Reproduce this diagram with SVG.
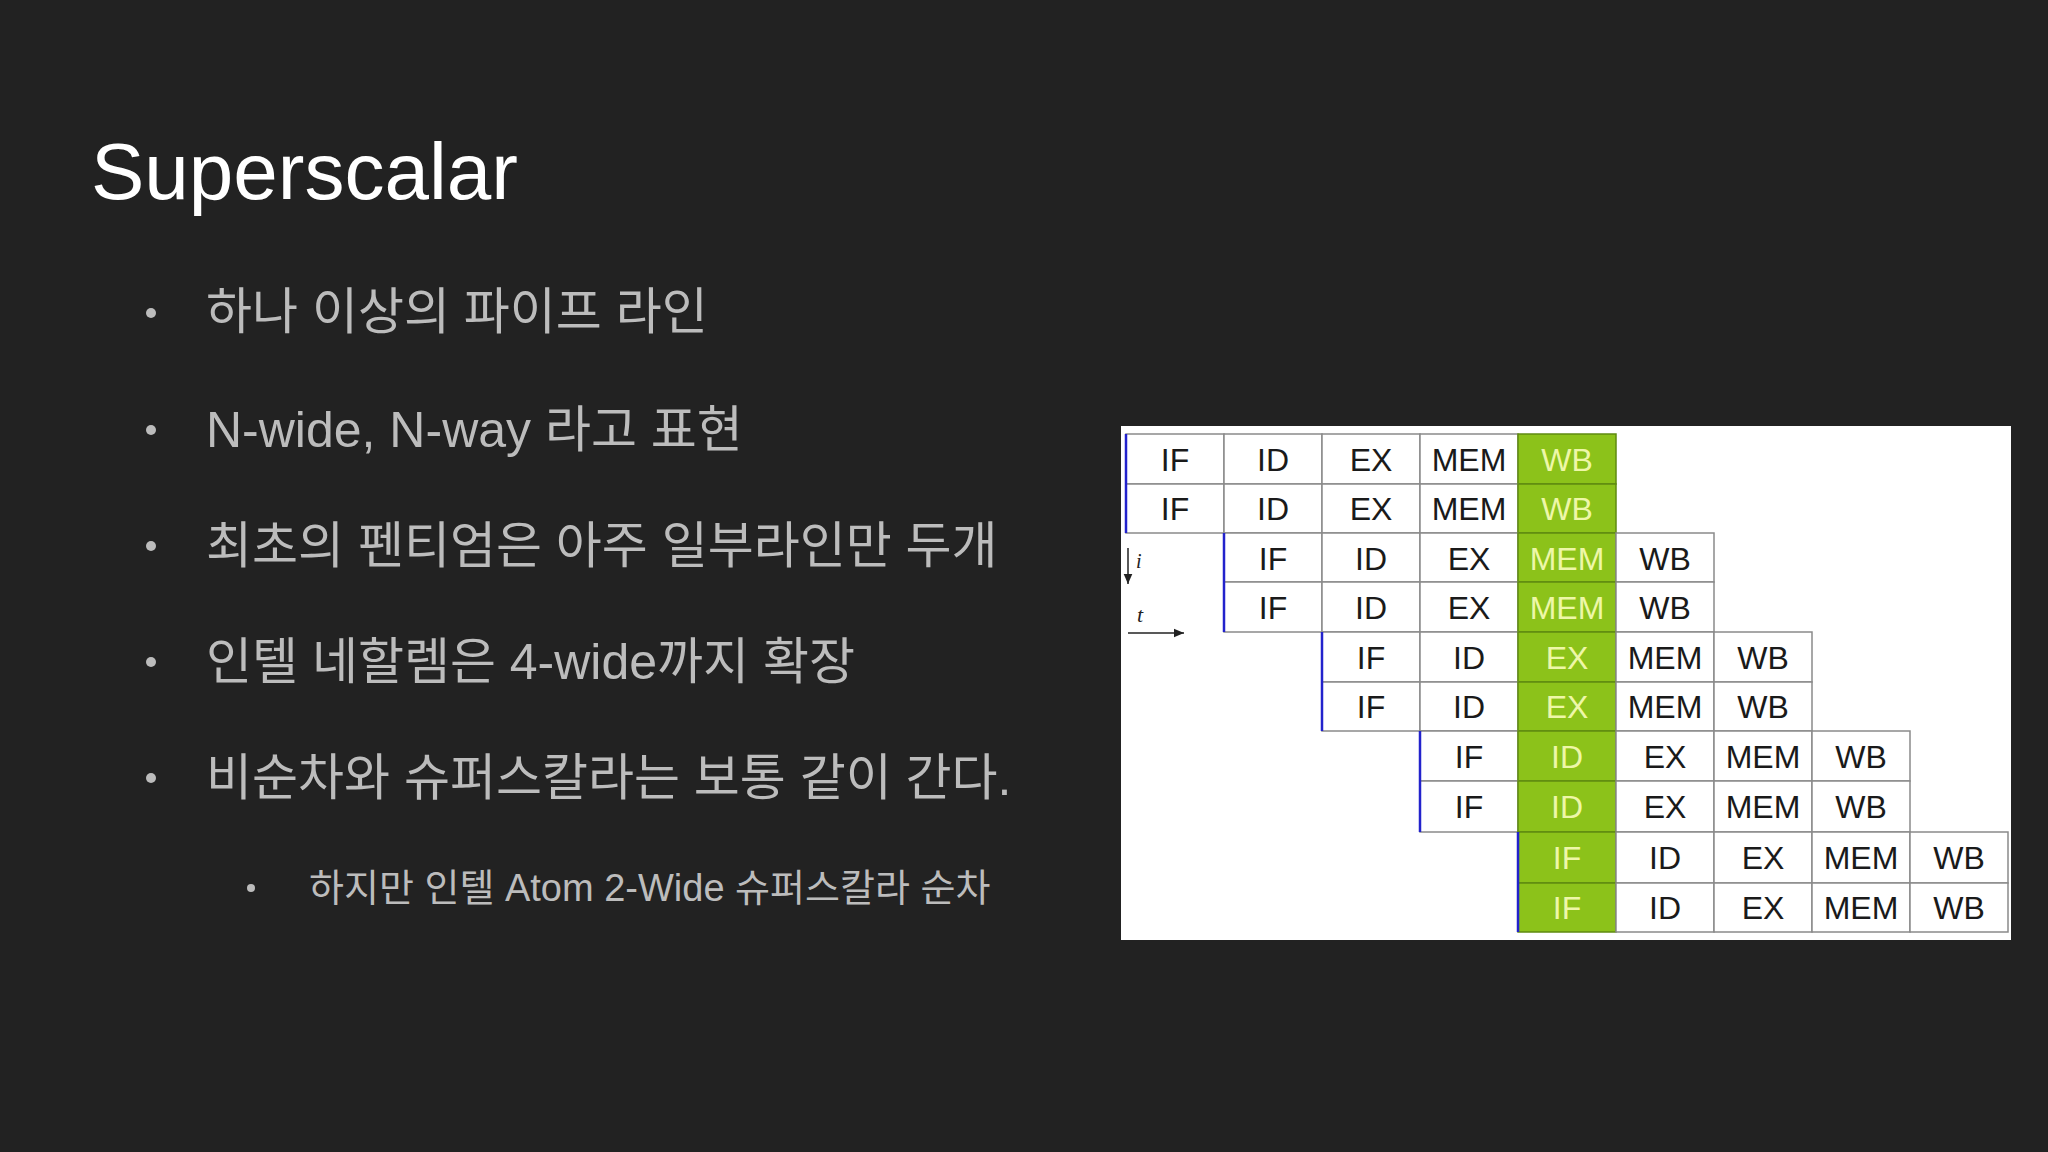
<svg xmlns="http://www.w3.org/2000/svg" width="2048" height="1152" viewBox="0 0 2048 1152">
<style>
.t{font-family:"Liberation Sans","Noto Sans CJK KR",sans-serif;fill:#bcbcbc;font-size:50px}
.s{font-family:"Liberation Sans","Noto Sans CJK KR",sans-serif;fill:#bcbcbc;font-size:38px}
.c{fill:#fff;stroke:#8a8a8a;stroke-width:1.5}
.g{fill:#8cc21a;stroke:#5f8a10;stroke-width:1.5}
.l{font-family:"Liberation Sans",sans-serif;font-size:32px;text-anchor:middle;fill:#1a1a1a}
.lg{font-family:"Liberation Sans",sans-serif;font-size:32px;text-anchor:middle;fill:#eef7a8}
.b{stroke:#2222cc;stroke-width:2.5}
</style>
<defs><marker id="ah" markerWidth="8" markerHeight="8" refX="7" refY="4" orient="auto"><path d="M0,1 L7,4 L0,7 z" fill="#222"/></marker></defs>
<rect width="2048" height="1152" fill="#222"/>
<text x="91" y="199" font-family="Liberation Sans,sans-serif" font-size="80" fill="#fff">Superscalar</text>
<g id="bullets">
<circle cx="151" cy="313" r="5" fill="#bcbcbc"/><text class="t" x="206" y="329">하나 이상의 파이프 라인</text>
<circle cx="151" cy="430" r="5" fill="#bcbcbc"/><text class="t" x="206" y="447">N-wide, N-way 라고 표현</text>
<circle cx="151" cy="546" r="5" fill="#bcbcbc"/><text class="t" x="206" y="563">최초의 펜티엄은 아주 일부라인만 두개</text>
<circle cx="151" cy="662" r="5" fill="#bcbcbc"/><text class="t" x="206" y="679">인텔 네할렘은 4-wide까지 확장</text>
<circle cx="151" cy="778" r="5" fill="#bcbcbc"/><text class="t" x="206" y="795">비순차와 슈퍼스칼라는 보통 같이 간다.</text>
<circle cx="251" cy="888" r="4" fill="#bcbcbc"/><text class="s" x="309" y="901">하지만 인텔 Atom 2-Wide 슈퍼스칼라 순차</text>
</g>
<g id="table">
<rect x="1121" y="426" width="890" height="514" fill="#fff"/>
<g id="cells">
<!-- rows generated manually -->
<g id="r0"><rect class="c" x="1126" y="434" width="98" height="50"/><rect class="c" x="1224" y="434" width="98" height="50"/><rect class="c" x="1322" y="434" width="98" height="50"/><rect class="c" x="1420" y="434" width="98" height="50"/><rect class="g" x="1518" y="434" width="98" height="50"/>
<text class="l" x="1175" y="471">IF</text><text class="l" x="1273" y="471">ID</text><text class="l" x="1371" y="471">EX</text><text class="l" x="1469" y="471">MEM</text><text class="lg" x="1567" y="471">WB</text></g>
<g id="r1"><rect class="c" x="1126" y="484" width="98" height="49"/><rect class="c" x="1224" y="484" width="98" height="49"/><rect class="c" x="1322" y="484" width="98" height="49"/><rect class="c" x="1420" y="484" width="98" height="49"/><rect class="g" x="1518" y="484" width="98" height="49"/>
<text class="l" x="1175" y="520">IF</text><text class="l" x="1273" y="520">ID</text><text class="l" x="1371" y="520">EX</text><text class="l" x="1469" y="520">MEM</text><text class="lg" x="1567" y="520">WB</text></g>
<g id="r2"><rect class="c" x="1224" y="533" width="98" height="49"/><rect class="c" x="1322" y="533" width="98" height="49"/><rect class="c" x="1420" y="533" width="98" height="49"/><rect class="g" x="1518" y="533" width="98" height="49"/><rect class="c" x="1616" y="533" width="98" height="49"/>
<text class="l" x="1273" y="570">IF</text><text class="l" x="1371" y="570">ID</text><text class="l" x="1469" y="570">EX</text><text class="lg" x="1567" y="570">MEM</text><text class="l" x="1665" y="570">WB</text></g>
<g id="r3"><rect class="c" x="1224" y="582" width="98" height="50"/><rect class="c" x="1322" y="582" width="98" height="50"/><rect class="c" x="1420" y="582" width="98" height="50"/><rect class="g" x="1518" y="582" width="98" height="50"/><rect class="c" x="1616" y="582" width="98" height="50"/>
<text class="l" x="1273" y="619">IF</text><text class="l" x="1371" y="619">ID</text><text class="l" x="1469" y="619">EX</text><text class="lg" x="1567" y="619">MEM</text><text class="l" x="1665" y="619">WB</text></g>
<g id="r4"><rect class="c" x="1322" y="632" width="98" height="50"/><rect class="c" x="1420" y="632" width="98" height="50"/><rect class="g" x="1518" y="632" width="98" height="50"/><rect class="c" x="1616" y="632" width="98" height="50"/><rect class="c" x="1714" y="632" width="98" height="50"/>
<text class="l" x="1371" y="669">IF</text><text class="l" x="1469" y="669">ID</text><text class="lg" x="1567" y="669">EX</text><text class="l" x="1665" y="669">MEM</text><text class="l" x="1763" y="669">WB</text></g>
<g id="r5"><rect class="c" x="1322" y="682" width="98" height="49"/><rect class="c" x="1420" y="682" width="98" height="49"/><rect class="g" x="1518" y="682" width="98" height="49"/><rect class="c" x="1616" y="682" width="98" height="49"/><rect class="c" x="1714" y="682" width="98" height="49"/>
<text class="l" x="1371" y="718">IF</text><text class="l" x="1469" y="718">ID</text><text class="lg" x="1567" y="718">EX</text><text class="l" x="1665" y="718">MEM</text><text class="l" x="1763" y="718">WB</text></g>
<g id="r6"><rect class="c" x="1420" y="731" width="98" height="50"/><rect class="g" x="1518" y="731" width="98" height="50"/><rect class="c" x="1616" y="731" width="98" height="50"/><rect class="c" x="1714" y="731" width="98" height="50"/><rect class="c" x="1812" y="731" width="98" height="50"/>
<text class="l" x="1469" y="768">IF</text><text class="lg" x="1567" y="768">ID</text><text class="l" x="1665" y="768">EX</text><text class="l" x="1763" y="768">MEM</text><text class="l" x="1861" y="768">WB</text></g>
<g id="r7"><rect class="c" x="1420" y="781" width="98" height="51"/><rect class="g" x="1518" y="781" width="98" height="51"/><rect class="c" x="1616" y="781" width="98" height="51"/><rect class="c" x="1714" y="781" width="98" height="51"/><rect class="c" x="1812" y="781" width="98" height="51"/>
<text class="l" x="1469" y="818">IF</text><text class="lg" x="1567" y="818">ID</text><text class="l" x="1665" y="818">EX</text><text class="l" x="1763" y="818">MEM</text><text class="l" x="1861" y="818">WB</text></g>
<g id="r8"><rect class="g" x="1518" y="832" width="98" height="51"/><rect class="c" x="1616" y="832" width="98" height="51"/><rect class="c" x="1714" y="832" width="98" height="51"/><rect class="c" x="1812" y="832" width="98" height="51"/><rect class="c" x="1910" y="832" width="98" height="51"/>
<text class="lg" x="1567" y="869">IF</text><text class="l" x="1665" y="869">ID</text><text class="l" x="1763" y="869">EX</text><text class="l" x="1861" y="869">MEM</text><text class="l" x="1959" y="869">WB</text></g>
<g id="r9"><rect class="g" x="1518" y="883" width="98" height="49"/><rect class="c" x="1616" y="883" width="98" height="49"/><rect class="c" x="1714" y="883" width="98" height="49"/><rect class="c" x="1812" y="883" width="98" height="49"/><rect class="c" x="1910" y="883" width="98" height="49"/>
<text class="lg" x="1567" y="919">IF</text><text class="l" x="1665" y="919">ID</text><text class="l" x="1763" y="919">EX</text><text class="l" x="1861" y="919">MEM</text><text class="l" x="1959" y="919">WB</text></g>
</g>
<g id="blue">
<line class="b" x1="1126" y1="434" x2="1126" y2="533"/>
<line class="b" x1="1224" y1="533" x2="1224" y2="632"/>
<line class="b" x1="1322" y1="632" x2="1322" y2="731"/>
<line class="b" x1="1420" y1="731" x2="1420" y2="832"/>
<line class="b" x1="1518" y1="832" x2="1518" y2="932"/>
</g>
<g id="axes">
<line x1="1128" y1="548" x2="1128" y2="584" stroke="#222" stroke-width="1.5" marker-end="url(#ah)"/>
<text x="1136" y="568" font-family="Liberation Serif,serif" font-style="italic" font-size="20" fill="#222">i</text>
<text x="1137" y="622" font-family="Liberation Serif,serif" font-style="italic" font-size="22" fill="#222">t</text>
<line x1="1128" y1="633" x2="1184" y2="633" stroke="#222" stroke-width="1.5" marker-end="url(#ah)"/>
</g>
</g>
</svg>
